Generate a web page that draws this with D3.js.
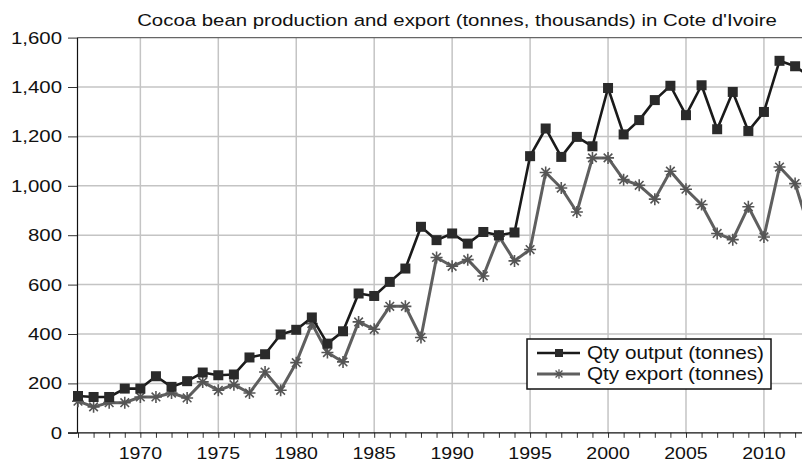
<!DOCTYPE html>
<html>
<head>
<meta charset="utf-8">
<script src="https://cdn.jsdelivr.net/npm/d3@7"></script>
<style>
  body { margin: 0; background: #fff; }
  svg text { font-family: "Liberation Sans", Arial, sans-serif; fill: #111; }
</style>
</head>
<body>
<div id="chart"></div>
<script>
// data (thousand tonnes)
const years = d3.range(1966, 2014);
const qtyOutput = [
    149, 145, 145, 179, 179, 229, 186, 209, 244, 233,
    236, 305, 318, 398, 417, 467, 361, 411, 564, 554,
    611, 665, 834, 780, 807, 766, 813, 800, 811, 1120,
    1232, 1117, 1198, 1160, 1396, 1208, 1266, 1347, 1405, 1286,
    1407, 1229, 1380, 1222, 1299, 1506, 1484, 1440
];
const qtyExport = [
    128, 105, 122, 122, 145, 145, 161, 141, 206, 172,
    195, 161, 246, 172, 284, 442, 325, 287, 449, 419,
    512, 512, 386, 710, 674, 701, 635, 796, 696, 742,
    1054, 991, 894, 1113, 1113, 1025, 1002, 946, 1059, 986,
    924, 807, 782, 915, 793, 1076, 1009, 804
];
const yTicks = [0, 200, 400, 600, 800, 1000, 1200, 1400, 1600];
const xMajor = [1970, 1975, 1980, 1985, 1990, 1995, 2000, 2005, 2010];
const xMinor = d3.range(1966, 2013);
const seriesNames = ["Qty output (tonnes)", "Qty export (tonnes)"];
const chartTitle = "Cocoa bean production and export (tonnes, thousands) in Cote d'Ivoire";

const width = 802;
const height = 462;
const plotLeft = 77, plotRight = 802, plotTop = 37.6, plotBottom = 432.8;

const svg = d3.select("#chart").append("svg")
    .attr("width", width)
    .attr("height", height);

const x = d3.scaleLinear().domain([1966, 2013]).range([78, 810.7]);
const y = d3.scaleLinear().domain([0, 1600]).range([plotBottom, plotTop]);

// text in the picture is stretched sideways a bit, hence the scale
function addText(g, px, py, str, size, anchor, sx) {
    return g.append("text")
        .attr("transform", `translate(${px},${py}) scale(${sx},1)`)
        .attr("text-anchor", anchor)
        .style("font-size", size + "px")
        .text(str);
}

// grid
svg.append("g").selectAll("line")
    .data(yTicks.slice(1, -1))
    .enter().append("line")
    .attr("x1", plotLeft).attr("x2", plotRight)
    .attr("y1", d => y(d)).attr("y2", d => y(d))
    .attr("stroke", "#c4c4c4").attr("stroke-width", 1.5);

svg.append("g").selectAll("line")
    .data(xMajor)
    .enter().append("line")
    .attr("x1", d => x(d)).attr("x2", d => x(d))
    .attr("y1", plotTop).attr("y2", plotBottom)
    .attr("stroke", "#c4c4c4").attr("stroke-width", 1.5);

// top frame line
svg.append("line")
    .attr("x1", plotLeft).attr("x2", plotRight)
    .attr("y1", y(1600)).attr("y2", y(1600))
    .attr("stroke", "#666").attr("stroke-width", 1.2);

// y axis
const yAxis = svg.append("g")
    .attr("transform", `translate(${plotLeft},0)`)
    .call(d3.axisLeft(y).tickValues(yTicks).tickSize(9).tickSizeOuter(0).tickFormat(() => ""));
yAxis.select(".domain").attr("stroke", "#111").attr("stroke-width", 1.2);
yAxis.selectAll(".tick line").attr("stroke", "#333").attr("stroke-width", 1);
yTicks.forEach(v => addText(svg, 62, y(v) + 6, d3.format(",")(v), 17, "end", 1.2));

// x axis
const xAxis = svg.append("g")
    .attr("transform", `translate(0,${plotBottom})`)
    .call(d3.axisBottom(x).tickValues(xMinor).tickSize(5).tickSizeOuter(0).tickFormat(() => ""));
xAxis.select(".domain").remove();
xAxis.selectAll(".tick line").attr("stroke", "#333").attr("stroke-width", 1);
svg.append("line")
    .attr("x1", plotLeft - 9).attr("x2", plotRight)
    .attr("y1", plotBottom).attr("y2", plotBottom)
    .attr("stroke", "#111").attr("stroke-width", 1.2);
xMajor.forEach(v => addText(svg, x(v), 459, v, 17, "middle", 1.15));

// title
addText(svg, 457, 26, chartTitle, 17, "middle", 1.2);

// lines
const line = d3.line().x((d, i) => x(years[i])).y(d => y(d));

svg.append("path")
    .datum(qtyExport)
    .attr("fill", "none")
    .attr("stroke", "#5f5f5f")
    .attr("stroke-width", 3)
    .attr("stroke-linejoin", "round")
    .attr("d", line);

const star = "M-6,0L6,0M0,-6L0,6M-4.3,-4.3L4.3,4.3M-4.3,4.3L4.3,-4.3";
svg.append("g").selectAll("path")
    .data(qtyExport)
    .enter().append("path")
    .attr("transform", (d, i) => `translate(${x(years[i])},${y(d)})`)
    .attr("d", star)
    .attr("fill", "none")
    .attr("stroke", "#555")
    .attr("stroke-width", 1.6);

svg.append("path")
    .datum(qtyOutput)
    .attr("fill", "none")
    .attr("stroke", "#1a1a1a")
    .attr("stroke-width", 2.6)
    .attr("stroke-linejoin", "round")
    .attr("d", line);

svg.append("g").selectAll("rect")
    .data(qtyOutput)
    .enter().append("rect")
    .attr("x", (d, i) => x(years[i]) - 5)
    .attr("y", d => y(d) - 5)
    .attr("width", 10)
    .attr("height", 10)
    .attr("fill", "#2a2a2a");

// legend
const legend = svg.append("g");
legend.append("rect")
    .attr("x", 527).attr("y", 339)
    .attr("width", 244).attr("height", 50)
    .attr("fill", "#fff")
    .attr("stroke", "#111").attr("stroke-width", 1.5);

legend.append("line")
    .attr("x1", 537).attr("x2", 580).attr("y1", 353).attr("y2", 353)
    .attr("stroke", "#1a1a1a").attr("stroke-width", 2.6);
legend.append("rect")
    .attr("x", 555).attr("y", 349).attr("width", 8).attr("height", 8)
    .attr("fill", "#2a2a2a");
legend.append("line")
    .attr("x1", 537).attr("x2", 580).attr("y1", 374).attr("y2", 374)
    .attr("stroke", "#5f5f5f").attr("stroke-width", 3);
legend.append("path")
    .attr("transform", "translate(559,374) scale(0.8)")
    .attr("d", star)
    .attr("fill", "none").attr("stroke", "#555").attr("stroke-width", 1.6);

addText(legend, 587, 359, seriesNames[0], 18, "start", 1.15);
addText(legend, 587, 380, seriesNames[1], 18, "start", 1.15);
</script>
</body>
</html>
